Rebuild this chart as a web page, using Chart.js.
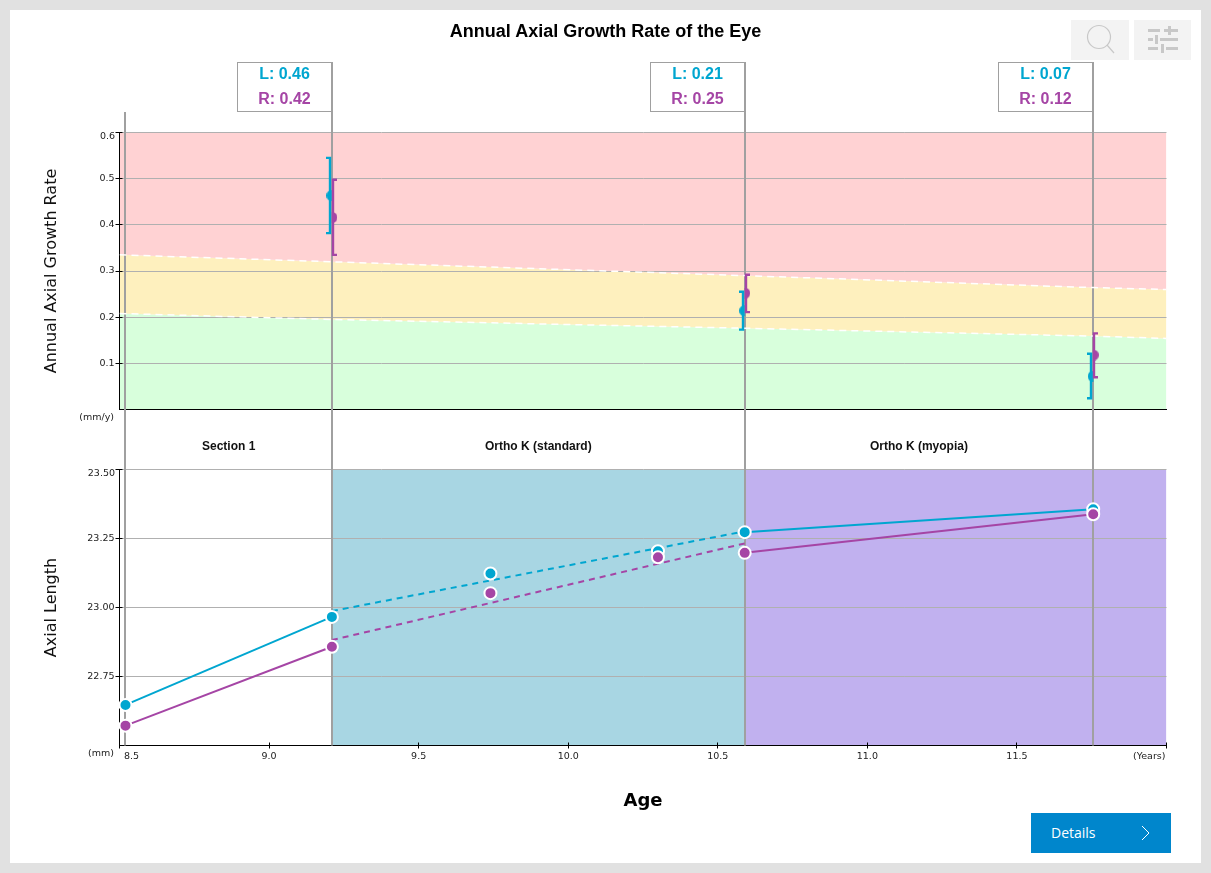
<!DOCTYPE html>
<html>
<head>
<meta charset="utf-8">
<title>Annual Axial Growth Rate of the Eye</title>
<script src="https://cdn.jsdelivr.net/npm/chart.js@4"></script>
<style>
html, body { margin: 0; padding: 0; background: #e1e1e1; }
#page { position: relative; width: 1211px; height: 873px; overflow: hidden; }
#panel { position: absolute; left: 10px; top: 10px; width: 1191px; height: 853px; background: #fff; }
canvas { position: absolute; left: 0; }
#title { position: absolute; left: 0; width: 1211px; top: 20px; text-align: center; font: bold 18px "Liberation Sans", sans-serif; color: #000; line-height: 22px; }
.tool { position: absolute; top: 20px; height: 40px; background: #f3f3f3; }
#details { position: absolute; left: 1031px; top: 813px; width: 140px; height: 40px; background: #0086cc; color: #fff; font: 14px/40px "Open Sans", sans-serif; }
#details span { position: absolute; left: 20px; }
#details svg { position: absolute; left: 110px; top: 12px; }
</style>
</head>
<body>
<div id="page">
  <div id="panel"></div>
  <canvas id="rateChart" width="1211" height="440" style="top:0"></canvas>
  <canvas id="lengthChart" width="1211" height="433" style="top:440px"></canvas>
  <div id="title">Annual Axial Growth Rate of the Eye</div>
  <div class="tool" style="left:1071px;width:58px">
    <svg width="58" height="40"><circle cx="28" cy="17" r="11.5" fill="none" stroke="#c8c8c8" stroke-width="1.2"/><line x1="36" y1="25" x2="43" y2="33" stroke="#c8c8c8" stroke-width="1.2"/></svg>
  </div>
  <div class="tool" style="left:1134px;width:57px">
    <svg width="57" height="40" fill="#c8c8c8">
      <rect x="14" y="9" width="12" height="3"/><rect x="30" y="9" width="14" height="3"/><rect x="34" y="6" width="3" height="9"/>
      <rect x="14" y="18" width="5" height="3"/><rect x="26" y="18" width="18" height="3"/><rect x="21" y="15" width="3" height="9"/>
      <rect x="14" y="27" width="10" height="3"/><rect x="32" y="27" width="12" height="3"/><rect x="27" y="24" width="3" height="9"/>
    </svg>
  </div>
  <div id="details"><span>Details</span>
    <svg width="10" height="16"><polyline points="1,1 8,8 1,15" fill="none" stroke="#fff" stroke-width="1"/></svg>
  </div>
</div>
<script>
// exam ages, the grey vertical lines
const examAges = [8.52, 9.21, 10.59, 11.755];
const rateAges = [9.21, 10.59, 11.755];

// growth rate per eye, with error bar ends
const rateLeft = [0.4635, 0.214, 0.072];
const rateLeftLow = [0.382, 0.173, 0.0245];
const rateLeftHigh = [0.545, 0.255, 0.1206];
const rateRight = [0.416, 0.252, 0.118];
const rateRightLow = [0.335, 0.211, 0.07];
const rateRightHigh = [0.4975, 0.292, 0.165];

// background zones of the top plot
const zoneAges = [8.5, 9.21, 10.59, 11.755, 12];
const zoneTop = [0.6, 0.6, 0.6, 0.6, 0.6];
const zoneRedLimit = [0.335, 0.32, 0.29, 0.264, 0.26];
const zoneGreenLimit = [0.208, 0.195, 0.176, 0.159, 0.154];

// axial length
const lengthAges = [8.52, 9.21, 9.74, 10.3, 10.59, 11.755];
const lengthLeft = [22.647, 22.966, 23.123, 23.204, 23.273, 23.356];
const lengthRight = [22.572, 22.858, 23.052, 23.182, 23.198, 23.338];
const trendAges = [9.21, 10.59];
const trendLeft = [22.987, 23.276];
const trendRight = [22.882, 23.232];

// treatment sections
const sectionLabels = ['Section 1', 'Ortho K (standard)', 'Ortho K (myopia)'];
const sectionFrom = [8.52, 9.21, 10.59];
const sectionTo = [9.21, 10.59, 11.755];
const standardBand = [9.21, 10.59];
const myopiaBand = [10.59, 12];

const BLUE = '#00a6d0';
const PURPLE = '#a545a5';
const GREY_LINE = '#a0a0a0';
const TICK_FONT = '9.5px "DejaVu Sans"';
const TEXT = '#222';

function pts(xs, ys) {
    return xs.map(function (x, i) { return { x: x, y: ys[i] }; });
}

function flat(xs, y) {
    return xs.map(function (x) { return { x: x, y: y }; });
}

function text(ctx, str, x, y, font, color, align) {
    ctx.save();
    ctx.font = font;
    ctx.fillStyle = color;
    ctx.textAlign = align || 'center';
    ctx.textBaseline = 'middle';
    ctx.fillText(str, x, y);
    ctx.restore();
}

// half a disc, used as point style: the error bar sits on the flat side
function halfDisc(color, side) {
    const c = document.createElement('canvas');
    c.width = 11;
    c.height = 11;
    const g = c.getContext('2d');
    g.fillStyle = color;
    g.beginPath();
    if (side === 'left') g.arc(5.5, 5.5, 5.5, Math.PI / 2, Math.PI * 1.5);
    else g.arc(5.5, 5.5, 5.5, -Math.PI / 2, Math.PI / 2);
    g.fill();
    return c;
}

function zoneLine(data, fill, bg, dashed) {
    return {
        data: data,
        fill: fill,
        backgroundColor: bg,
        borderColor: dashed ? '#fff' : 'transparent',
        borderWidth: dashed ? 1.5 : 0,
        borderDash: dashed ? [7, 5] : [],
        pointRadius: 0,
        tension: 0,
        order: 5
    };
}

function marker(data, color, order) {
    return {
        data: data,
        showLine: false,
        backgroundColor: color,
        borderColor: '#fff',
        borderWidth: 2,
        pointRadius: 6,
        clip: false,
        order: order
    };
}

function segment(data, color, dashed) {
    return {
        data: data,
        borderColor: color,
        borderWidth: 2,
        borderDash: dashed ? [6, 5] : [],
        pointRadius: 0,
        tension: 0,
        order: 4
    };
}

function band(xs, color) {
    return {
        data: flat(xs, 23.5),
        fill: 'start',
        backgroundColor: color,
        borderWidth: 0,
        pointRadius: 0,
        order: 6
    };
}

function greyLines(chart, topFor, bottomFor) {
    const ctx = chart.ctx;
    ctx.save();
    ctx.strokeStyle = GREY_LINE;
    ctx.lineWidth = 2;
    examAges.forEach(function (age, i) {
        const x = Math.round(chart.scales.x.getPixelForValue(age));
        ctx.beginPath();
        ctx.moveTo(x, topFor(i));
        ctx.lineTo(x, bottomFor(i));
        ctx.stroke();
    });
    ctx.restore();
}

// small inner part of each tick mark
function innerTicks(chart, skipFirst) {
    const ctx = chart.ctx;
    const a = chart.chartArea;
    ctx.save();
    ctx.strokeStyle = '#000';
    ctx.lineWidth = 1;
    chart.scales.y.ticks.forEach(function (t, i) {
        if (i === 0) return;
        const y = Math.round(chart.scales.y.getPixelForValue(t.value) - 0.5) + 0.5;
        ctx.beginPath();
        ctx.moveTo(a.left, y);
        ctx.lineTo(a.left + 3, y);
        ctx.stroke();
    });
    if (skipFirst) {
        chart.scales.x.ticks.forEach(function (t, i) {
            if (i === 0) return;
            const x = Math.round(chart.scales.x.getPixelForValue(t.value) - 0.5) + 0.5;
            ctx.beginPath();
            ctx.moveTo(x, a.bottom);
            ctx.lineTo(x, a.bottom - 3);
            ctx.stroke();
        });
    }
    ctx.restore();
}

function errorBar(chart, age, low, high, color, offset, cap) {
    const ctx = chart.ctx;
    const x = Math.round(chart.scales.x.getPixelForValue(age)) + offset;
    const yLow = chart.scales.y.getPixelForValue(low);
    const yHigh = chart.scales.y.getPixelForValue(high);
    ctx.save();
    ctx.strokeStyle = color;
    ctx.lineWidth = 2.4;
    ctx.beginPath();
    ctx.moveTo(x + cap, yHigh);
    ctx.lineTo(x, yHigh);
    ctx.lineTo(x, yLow);
    ctx.lineTo(x + cap, yLow);
    ctx.stroke();
    ctx.restore();
}

const rateOverlay = {
    id: 'rateOverlay',
    beforeDatasetsDraw(chart) {
        greyLines(chart, function (i) { return i === 0 ? 112 : 62; }, function () { return 440; });
    },
    afterDatasetsDraw(chart) {
        const ctx = chart.ctx;
        rateAges.forEach(function (age, i) {
            errorBar(chart, age, rateLeftLow[i], rateLeftHigh[i], BLUE, -2, -4);
            errorBar(chart, age, rateRightLow[i], rateRightHigh[i], PURPLE, 1, 4);
            const x = Math.round(chart.scales.x.getPixelForValue(age));
            ctx.save();
            ctx.strokeStyle = GREY_LINE;
            ctx.lineWidth = 1;
            ctx.strokeRect(x - 94.5, 62.5, 94.5, 49);
            ctx.restore();
            text(ctx, 'L: ' + rateLeft[i].toFixed(2), x - 47.5, 75, 'bold 16px "Liberation Sans"', BLUE);
            text(ctx, 'R: ' + rateRight[i].toFixed(2), x - 47.5, 99.5, 'bold 16px "Liberation Sans"', PURPLE);
        });
        innerTicks(chart, false);
        const y = chart.scales.y;
        text(ctx, '0.6', 115, y.getPixelForValue(0.6) + 4.5, TICK_FONT, TEXT, 'right');
        text(ctx, '(mm/y)', 114, 418, '9.5px "DejaVu Sans"', TEXT, 'right');
    }
};

const lengthOverlay = {
    id: 'lengthOverlay',
    beforeDatasetsDraw(chart) {
        greyLines(chart, function () { return 0; }, function () { return chart.chartArea.bottom; });
    },
    afterDatasetsDraw(chart) {
        const ctx = chart.ctx;
        const xs = chart.scales.x;
        sectionLabels.forEach(function (label, i) {
            const mid = (xs.getPixelForValue(sectionFrom[i]) + xs.getPixelForValue(sectionTo[i])) / 2;
            text(ctx, label, mid, 7, 'bold 12px "Liberation Sans"', '#111');
        });
        innerTicks(chart, true);
        text(ctx, '23.50', 115, chart.scales.y.getPixelForValue(23.5) + 4.5, TICK_FONT, TEXT, 'right');
        text(ctx, '(mm)', 114, chart.chartArea.bottom + 8.5, TICK_FONT, TEXT, 'right');
        text(ctx, '8.5', xs.getPixelForValue(8.5) + 12, chart.chartArea.bottom + 11.5, TICK_FONT, TEXT);
        text(ctx, '(Years)', xs.getPixelForValue(12) - 1, chart.chartArea.bottom + 11.5, TICK_FONT, TEXT, 'right');
    }
};

function yAxis(min, max, step, digits, title, titleColorTop) {
    return {
        type: 'linear',
        min: min,
        max: max,
        afterFit(s) { s.width = 89.5; },
        border: { color: '#000', width: 1 },
        grid: {
            color: '#b0b0b0',
            lineWidth: 1,
            tickLength: 4,
            tickColor: function (c) { return c.tick && c.tick.value === min ? 'transparent' : '#000'; }
        },
        title: {
            display: true,
            text: title,
            color: '#111',
            font: { family: '"DejaVu Sans"', size: 16 },
            padding: { top: 12, bottom: 0 }
        },
        ticks: {
            stepSize: step,
            color: TEXT,
            font: { family: '"DejaVu Sans"', size: 9.5 },
            padding: 1,
            callback: function (v) {
                return v === min || v === max ? '' : v.toFixed(digits);
            }
        }
    };
}

Chart.defaults.animation = false;

function baseOptions(padding, yScale, xScale) {
    return {
        responsive: false,
        animation: false,
        layout: { padding: padding },
        plugins: { legend: { display: false }, tooltip: { enabled: false }, filler: { drawTime: 'beforeDraw' } },
        scales: { x: xScale, y: yScale }
    };
}

new Chart('rateChart', {
    type: 'line',
    data: {
        datasets: [
            marker(pts(rateAges, rateRight), PURPLE, 1),
            marker(pts(rateAges, rateLeft), BLUE, 2),
            zoneLine(pts(zoneAges, zoneTop), '+1', '#ffd2d3', false),
            zoneLine(pts(zoneAges, zoneRedLimit), '+1', '#fef0be', true),
            zoneLine(pts(zoneAges, zoneGreenLimit), 'origin', '#d8ffdc', true)
        ]
    },
    options: baseOptions(
        { left: 30, right: 44.5, top: 132.5, bottom: 30.5 },
        yAxis(0, 0.6, 0.1, 1, 'Annual Axial Growth Rate'),
        {
            type: 'linear',
            min: 8.5,
            max: 12,
            afterFit(s) { s.height = 0; },
            border: { color: '#000', width: 1 },
            grid: { drawOnChartArea: false, drawTicks: false },
            ticks: { display: false, stepSize: 0.5 }
        }
    ),
    plugins: [rateOverlay]
});
// half discs instead of round points on the top plot
(function () {
    const c = Chart.getChart('rateChart');
    c.data.datasets[0].pointStyle = halfDisc(PURPLE, 'right');
    c.data.datasets[1].pointStyle = halfDisc(BLUE, 'left');
    c.data.datasets[0].borderWidth = 0;
    c.data.datasets[1].borderWidth = 0;
    c.update();
})();

new Chart('lengthChart', {
    type: 'line',
    data: {
        datasets: [
            marker(pts(lengthAges, lengthRight), PURPLE, 1),
            marker(pts(lengthAges, lengthLeft), BLUE, 2),
            segment(pts(lengthAges.slice(0, 2), lengthLeft.slice(0, 2)), BLUE, false),
            segment(pts(lengthAges.slice(0, 2), lengthRight.slice(0, 2)), PURPLE, false),
            segment(pts(trendAges, trendLeft), BLUE, true),
            segment(pts(trendAges, trendRight), PURPLE, true),
            segment(pts(lengthAges.slice(4), lengthLeft.slice(4)), BLUE, false),
            segment(pts(lengthAges.slice(4), lengthRight.slice(4)), PURPLE, false),
            band(standardBand, '#a8d6e3'),
            band(myopiaBand, '#c1b1ef')
        ]
    },
    options: baseOptions(
        { left: 30, right: 44.5, top: 29.5, bottom: 60 },
        yAxis(22.5, 23.5, 0.25, 2, 'Axial Length'),
        {
            type: 'linear',
            min: 8.5,
            max: 12,
            afterFit(s) { s.height = 67.5; },
            border: { color: '#000', width: 1 },
            grid: { drawOnChartArea: false, drawTicks: true, tickLength: 3, tickColor: '#000' },
            title: {
                display: true,
                text: 'Age',
                color: '#000',
                font: { family: '"DejaVu Sans"', size: 18, weight: 'bold' },
                padding: { top: 0, bottom: 1 }
            },
            ticks: {
                stepSize: 0.5,
                autoSkip: false,
                maxRotation: 0,
                color: TEXT,
                font: { family: '"DejaVu Sans"', size: 9.5 },
                padding: 2,
                callback: function (v) { return v === 8.5 || v === 12 ? '' : v.toFixed(1); }
            }
        }
    ),
    plugins: [lengthOverlay]
});
</script>
</body>
</html>
